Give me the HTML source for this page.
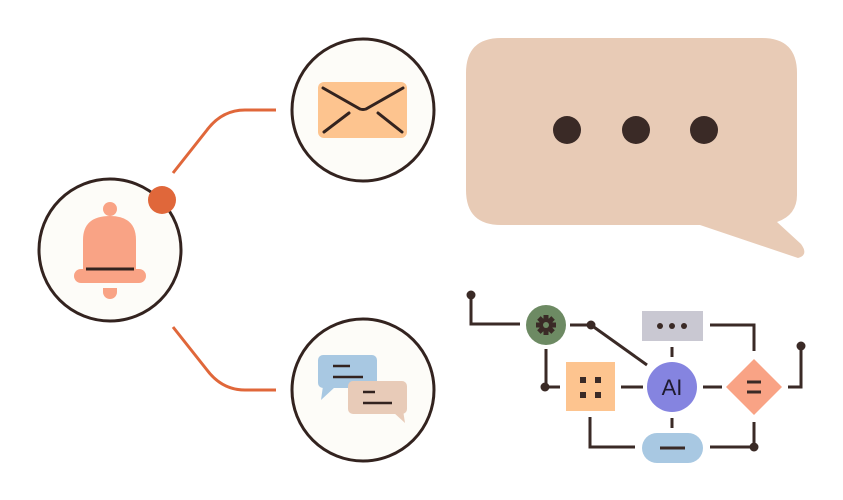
<!DOCTYPE html>
<html><head><meta charset="utf-8"><style>
html,body{margin:0;padding:0;background:#fff;}
svg{display:block;}
</style></head><body>
<svg width="843" height="500" viewBox="0 0 843 500" xmlns="http://www.w3.org/2000/svg">
<rect width="843" height="500" fill="#fff"/>
<!-- connectors left -->
<path d="M173 173 L207 130 Q222 110 245 110 L276 110" fill="none" stroke="#e0673a" stroke-width="3"/>
<path d="M173 327 L207 370 Q222 390 245 390 L276 390" fill="none" stroke="#e0673a" stroke-width="3"/>
<!-- circles -->
<circle cx="110" cy="250" r="71" fill="#fdfcf8" stroke="#33231f" stroke-width="3"/>
<circle cx="363" cy="110" r="71" fill="#fdfcf8" stroke="#33231f" stroke-width="3"/>
<circle cx="363" cy="390" r="71" fill="#fdfcf8" stroke="#33231f" stroke-width="3"/>
<circle cx="162" cy="200" r="14" fill="#e0673a"/>
<!-- bell -->
<g fill="#f9a385">
<circle cx="110" cy="209" r="7"/>
<path d="M83 270 L83 240 Q83 216 110 216 Q136 216 136 240 L136 270 Z"/>
<rect x="74" y="269" width="72" height="14" rx="7"/>
<path d="M103 288 L117 288 L117 292 A7 7 0 0 1 103 292 Z"/>
</g>
<line x1="86" y1="269" x2="134" y2="269" stroke="#33231f" stroke-width="3"/>
<!-- envelope -->
<rect x="318" y="82" width="89" height="56" rx="6" fill="#fdc48f"/>
<g stroke="#33231f" stroke-width="3" fill="none" stroke-linecap="round">
<path d="M323 88 L360 109 Q363 110 366 109 L403 88"/>
<line x1="324" y1="132" x2="349" y2="113"/>
<line x1="378" y1="113" x2="402" y2="132"/>
</g>
<!-- chat -->
<rect x="318" y="355" width="59" height="33" rx="5" fill="#a8c8e2"/>
<path d="M323 386 L321 400 L335 387 Z" fill="#a8c8e2"/>
<rect x="348" y="381" width="59" height="33" rx="5" fill="#e8cbb8"/>
<path d="M393 412 L405 423 L403 410 Z" fill="#e8cbb8"/>
<g stroke="#33231f" stroke-width="2.5">
<line x1="333" y1="366" x2="350" y2="366"/>
<line x1="333" y1="377" x2="363" y2="377"/>
<line x1="363" y1="392" x2="375" y2="392"/>
<line x1="363" y1="403" x2="392" y2="403"/>
</g>
<!-- speech bubble -->
<path d="M501 38 L762 38 Q797 38 797 73 L797 195 Q797 215 777 222 L801 244 Q809 255 798 258 L700 225 L501 225 Q466 225 466 190 L466 73 Q466 38 501 38 Z" fill="#e8cbb6"/>
<g fill="#3a2a26">
<circle cx="567" cy="130" r="14"/><circle cx="636" cy="130" r="14"/><circle cx="704" cy="130" r="14"/>
</g>
<!-- flowchart lines -->
<g stroke="#3a2a26" stroke-width="3" fill="none">
<path d="M471 295 L471 324 L520 324"/>
<line x1="570" y1="325" x2="591" y2="325"/>
<line x1="591" y1="325" x2="647" y2="365"/>
<path d="M546 349 L546 387 L560 387"/>
<line x1="621" y1="387" x2="643" y2="387"/>
<line x1="672" y1="347" x2="672" y2="357"/>
<path d="M710 325 L754 325 L754 351"/>
<line x1="703" y1="387" x2="722" y2="387"/>
<path d="M788 387 L801 387 L801 346"/>
<line x1="672" y1="418" x2="672" y2="428"/>
<path d="M590 417 L590 447 L635 447"/>
<path d="M710 447 L754 447 L754 422"/>
</g>
<g fill="#3a2a26">
<circle cx="471" cy="295" r="4.5"/><circle cx="591" cy="325" r="4.5"/><circle cx="545" cy="387" r="4.5"/>
<circle cx="801" cy="346" r="4.5"/><circle cx="754" cy="447" r="4.5"/>
</g>
<!-- gear node -->
<circle cx="546" cy="325" r="20" fill="#6d8a63"/>
<g fill="#3a2a26" transform="translate(546,325)">
<circle r="7"/>
<rect x="-2.5" y="-10" width="5" height="20"/>
<rect x="-2.5" y="-10" width="5" height="20" transform="rotate(45)"/>
<rect x="-2.5" y="-10" width="5" height="20" transform="rotate(90)"/>
<rect x="-2.5" y="-10" width="5" height="20" transform="rotate(135)"/>
<circle r="3" fill="#6d8a63"/>
</g>
<!-- square -->
<rect x="566" y="362" width="49" height="49" fill="#fdc48f"/>
<g fill="#3a2a26">
<rect x="580" y="377" width="6" height="6"/><rect x="595" y="377" width="6" height="6"/>
<rect x="580" y="392" width="6" height="6"/><rect x="595" y="392" width="6" height="6"/>
</g>
<!-- gray rect -->
<rect x="642" y="311" width="61" height="30" fill="#c9c8d2"/>
<g fill="#3a2a26"><circle cx="660" cy="326" r="3"/><circle cx="672" cy="326" r="3"/><circle cx="684" cy="326" r="3"/></g>
<!-- AI -->
<circle cx="672" cy="387" r="25" fill="#8584e0"/>
<text x="672" y="395" text-anchor="middle" font-family="Liberation Sans, sans-serif" font-size="22" fill="#1e1a2e">AI</text>
<!-- diamond -->
<path d="M754 359 L782 387 L754 415 L726 387 Z" fill="#f9a385"/>
<g stroke="#3a2a26" stroke-width="3"><line x1="747" y1="382" x2="761" y2="382"/><line x1="747" y1="392" x2="761" y2="392"/></g>
<!-- pill -->
<rect x="642" y="433" width="61" height="30" rx="15" fill="#a8c8e2"/>
<line x1="660" y1="448" x2="685" y2="448" stroke="#3a2a26" stroke-width="3"/>
</svg>
</body></html>
